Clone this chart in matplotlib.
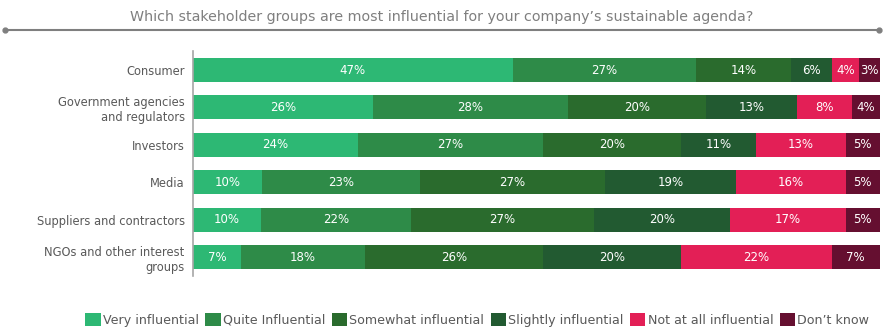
import matplotlib
matplotlib.use("Agg")
import matplotlib.pyplot as plt
from matplotlib.lines import Line2D
import numpy as np

categories = ["Consumer", "Government agencies\nand regulators", "Investors", "Media",
              "Suppliers and contractors", "NGOs and other interest\ngroups"]
series_names = ["Very influential", "Quite Influential", "Somewhat influential",
                "Slightly influential", "Not at all influential", "Don\u2019t know"]
very = [47, 26, 24, 10, 10, 7]
quite = [27, 28, 27, 23, 22, 18]
somewhat = [14, 20, 20, 27, 27, 26]
slightly = [6, 13, 11, 19, 20, 20]
not_at_all = [4, 8, 13, 16, 17, 22]
dont_know = [3, 4, 5, 5, 5, 7]
colors = ["#2DB874", "#2E8B48", "#2A6B2D", "#225A31", "#E31F56", "#650F30"]

data = np.array([very, quite, somewhat, slightly, not_at_all, dont_know], dtype=float)
shares = data / data.sum(axis=0) * 100

fig = plt.figure(figsize=(8.84, 3.29), dpi=100)
ax = fig.add_axes([0.2183, 0.162, 0.777, 0.682])
y = np.arange(len(categories))
left = np.zeros(len(categories))
for i, name in enumerate(series_names):
    ax.barh(y, shares[i], left=left, height=0.64, color=colors[i], label=name)
    for j in range(len(categories)):
        ax.text(left[j] + shares[i][j] / 2, y[j], f"{int(data[i][j])}%", ha="center",
                va="center", color="white", fontsize=8.5)
    left += shares[i]

ax.set_xlim(0, 100)
ax.set_ylim(len(categories) - 0.5, -0.5)
ax.set_yticks(y)
ax.set_yticklabels(categories, fontsize=8.3, color="#595959")
ax.tick_params(axis="y", length=0, pad=6)
ax.set_xticks([])
for s in ["top", "right", "bottom"]:
    ax.spines[s].set_visible(False)
ax.spines["left"].set_color("#A6A6A6")
ax.spines["left"].set_linewidth(1.2)

fig.text(0.5, 0.948, "Which stakeholder groups are most influential for your company\u2019s sustainable agenda?",
         ha="center", va="center", fontsize=10.3, color="#7F7F7F")
fig.add_artist(Line2D([0.006, 0.994], [0.908, 0.908], transform=fig.transFigure,
                      color="#7F7F7F", lw=1.5, marker="o", markersize=3.5,
                      markevery=[0, 1]))

handles, labels = ax.get_legend_handles_labels()
fig.legend(handles, labels, loc="center", bbox_to_anchor=(0.540, 0.028), ncol=6,
           frameon=False, fontsize=9.1, handlelength=1.2, handleheight=1.2,
           handletextpad=0.2, columnspacing=0.5, labelcolor="#595959")

fig.savefig("out.png", dpi=100)
